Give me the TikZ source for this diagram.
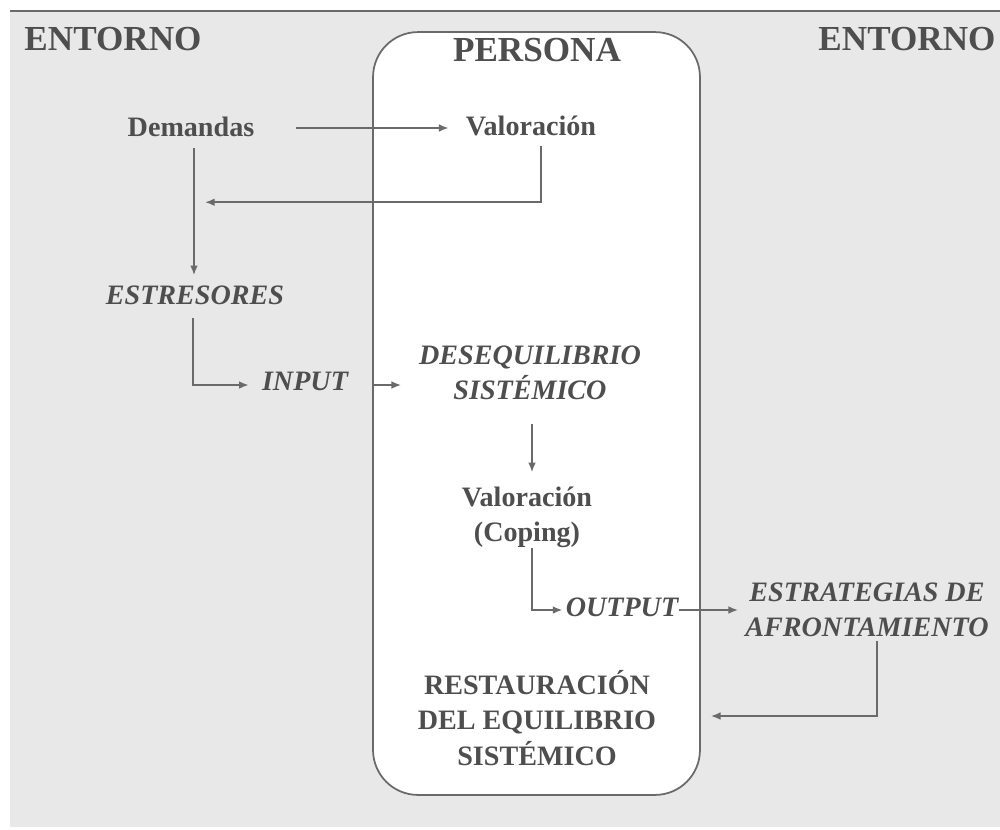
\documentclass[tikz,border=0pt]{standalone}
\usepackage{fontspec}
\setmainfont{Liberation Serif}
\usetikzlibrary{arrows.meta,positioning,calc}
\definecolor{fondo}{HTML}{E8E8E8}
\definecolor{tinta}{HTML}{4E4E4E}
\definecolor{linea}{HTML}{6A6A6A}
\tikzset{>={Latex[length=5.5pt,width=4.4pt]}}
\tikzset{
  titulo/.style={font=\fontsize{20}{24}\selectfont\bfseries, text=tinta, inner sep=0pt},
  texto/.style={font=\fontsize{16}{20}\selectfont\bfseries, text=tinta, align=center, inner sep=0pt},
  cursiva/.style={texto, font=\fontsize{16}{20}\selectfont\bfseries\itshape},
  flecha/.style={->, draw=linea, line width=1pt},
}

\begin{document}
\begin{tikzpicture}[x=0.02cm,y=-0.02cm]

            \useasboundingbox (0,0) rectangle (1000,829);
            \fill[fondo] (10,11) rectangle (1000,827);
            \draw[linea, line width=1.2pt] (10,11) -- (1000,11);
            \node[draw=linea, line width=1pt, fill=white, rounded corners=0.9cm,
                  minimum width=6.54cm, minimum height=15.26cm] (persona) at (536.5,413.5) {};

            % titulos
            \node[titulo] (entornoL) at (113,39) {ENTORNO};
            \node[titulo] (entornoR) at (907,39) {ENTORNO};
            \node[titulo] (titPersona) at (537,50) {PERSONA};

            \node[texto] (dem) at (191,127) {Demandas};
            \node[texto] (val1) at (531,126) {Valoración};
            \node[cursiva] (estr) at (195,295) {ESTRESORES};
            \node[cursiva] (input) at (305,381) {INPUT};
            \node[cursiva] (deseq) at (530,373) {DESEQUILIBRIO\\SISTÉMICO};
            \node[texto] (val2) at (527,517) {Valoración\\(Coping)};
            \node[cursiva] (output) at (622,607) {OUTPUT};
            \node[cursiva] (estrat) at (867,610) {ESTRATEGIAS DE\\AFRONTAMIENTO};
            \node[texto] (rest) at (537,718) {RESTAURACIÓN\\DEL EQUILIBRIO\\SISTÉMICO};

            \draw[flecha] ($(dem.east)+(41,1)$) -- ($(val1.west)+(-17,2)$);
            \draw[flecha] ($(val1.south)+(10,10)$) |- ($(dem.south)+(14,65)$);
            \draw[flecha] ($(dem.south)+(3,11)$) -- ($(dem.south |- estr.north)+(3,-10)$);
            \draw[flecha] ($(estr.south)+(-2,13)$) |- ($(input.west)+(-13,4)$);
            \draw[flecha] ($(persona.west |- input.east)+(0,4)$) -- ++(29,0);
            \draw[flecha] ($(deseq.south)+(2,24)$) -- ($(deseq.south |- val2.north)+(2,-14)$);
            \draw[flecha] ($(val2.south)+(5,0)$) |- ($(output.west)+(-3,3)$);
            \draw[flecha] ($(output.east)+(0,3)$) -- ($(estrat.west)+(-7,0)$);
            \draw[flecha] ($(estrat.south)+(10,4)$) |- ($(persona.east |- rest)+(10,-2)$);
          \end{tikzpicture}
\end{document}
